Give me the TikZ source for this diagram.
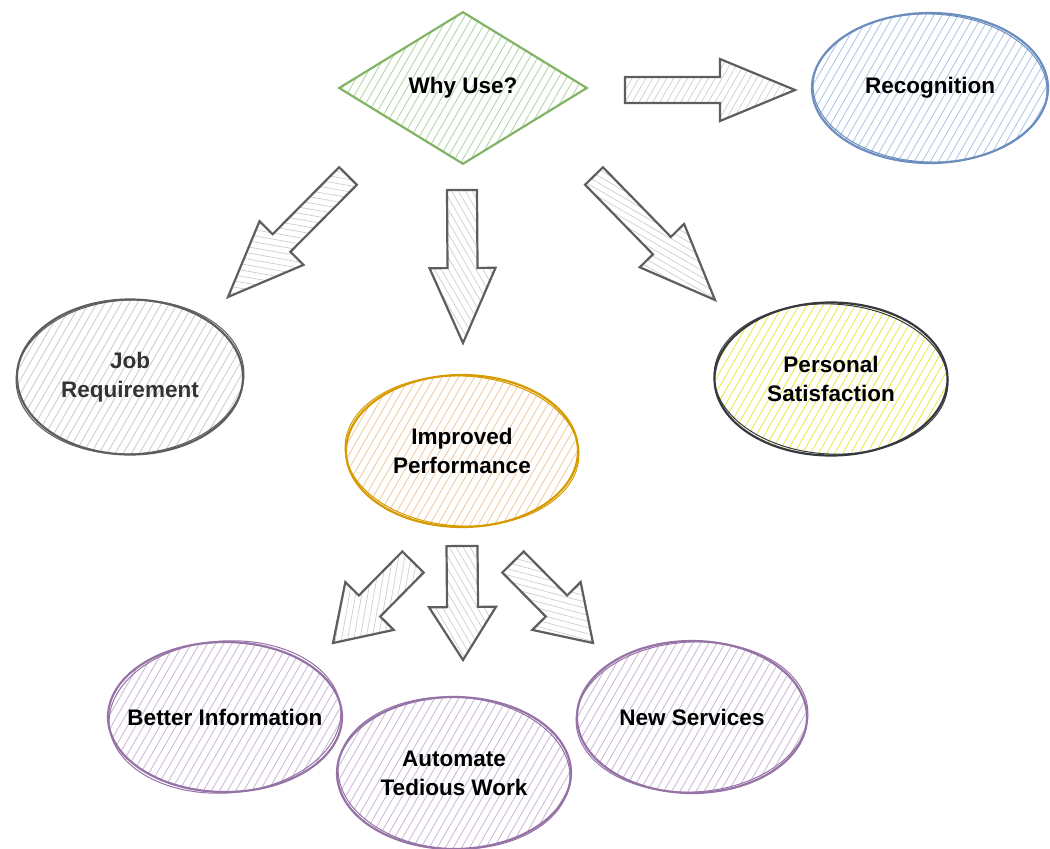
\documentclass[tikz,border=0pt]{standalone}
\usepackage{fontspec}
\setmainfont{Liberation Sans}
\usetikzlibrary{shapes.geometric,patterns.meta,calc}

\definecolor{sGreen}{HTML}{82B366}\definecolor{hGreen}{HTML}{B3D8A8}
\definecolor{sBlue}{HTML}{6C8EBF}\definecolor{hBlue}{HTML}{B0C8E8}
\definecolor{sGray}{HTML}{5E5E5E}\definecolor{hGray}{HTML}{CDCDCD}
\definecolor{sDark}{HTML}{36393D}\definecolor{hYellow}{HTML}{E8E850}
\definecolor{sOrange}{HTML}{D79B00}\definecolor{hOrange}{HTML}{F0CCA6}
\definecolor{sPurple}{HTML}{9673A6}\definecolor{hPurple}{HTML}{CDBBD8}
\definecolor{tGray}{HTML}{333333}

% block arrow: tail, tip, half shaft, half head, head length, hatch angle
\newcommand{\bkarrow}[6]{%
  \coordinate (bkbase) at ($(#2)!#5!(#1)$);
  \draw[blockarr, pattern={Lines[angle=#6,distance=6pt,line width=0.7pt]}, pattern color=hGray]
    ($(#1)!#3!90:(#2)$) -- ($(bkbase)!#3!90:(#2)$) -- ($(bkbase)!#4!90:(#2)$) -- (#2)
    -- ($(bkbase)!#4!-90:(#2)$) -- ($(bkbase)!#3!-90:(#2)$) -- ($(#1)!#3!-90:(#2)$) -- cycle;
}

\begin{document}
\begin{tikzpicture}[x=1pt,y=-1pt,
  bub/.style={ellipse, line width=2.2pt, inner sep=0pt, outer sep=0pt},
  hatch/.style={pattern={Lines[angle=#1,distance=7pt,line width=0.9pt]}},
  txt/.style={font=\fontsize{22.5}{29}\selectfont\bfseries, align=center, inner sep=0pt},
  blockarr/.style={draw=sGray, line width=2.2pt, line join=miter},
  ring/.style={line width=1pt}
]
\useasboundingbox (0,0) rectangle (1050,849);

% decision
\node[diamond, draw=sGreen, line width=2.2pt, inner sep=0pt, hatch=60, pattern color=hGreen,
      minimum width=248pt, minimum height=152pt,
      label={[txt]center:Why Use?}] (why) at (463,88) {};

% ellipses
\node[bub, draw=sBlue, hatch=60, pattern color=hBlue, minimum width=236pt, minimum height=150pt,
      label={[txt]center:Recognition}] (rec) at (930,88) {};
\draw[sBlue, ring, rotate around={-2:(rec.center)}] (rec.center) ellipse [x radius=117pt, y radius=74pt];

\node[bub, draw=sGray, hatch=60, pattern color=hGray, minimum width=226pt, minimum height=155pt,
      label={[txt,text=tGray]center:Job\\Requirement}] (job) at (130,377) {};
\draw[sGray, ring, rotate around={3:(job.center)}] (job.center) ellipse [x radius=114pt, y radius=77pt];

\node[bub, draw=sDark, hatch=60, pattern color=hYellow, minimum width=233pt, minimum height=153pt,
      label={[txt]center:Personal\\Satisfaction}] (pers) at (831,379) {};
\draw[sDark, ring, rotate around={-3:(pers.center)}] (pers.center) ellipse [x radius=117pt, y radius=75pt];

\node[bub, draw=sOrange, hatch=60, pattern color=hOrange, minimum width=232pt, minimum height=152pt,
      label={[txt]center:Improved\\Performance}] (imp) at (462,451) {};
\draw[sOrange, ring, rotate around={-3:(imp.center)}] (imp.center) ellipse [x radius=117pt, y radius=75pt];

\node[bub, draw=sPurple, hatch=60, pattern color=hPurple, minimum width=234pt, minimum height=150pt,
      label={[txt]center:Better Information}] (better) at (225,717) {};
\draw[sPurple, ring, rotate around={4:(better.center)}] (better.center) ellipse [x radius=116pt, y radius=76pt];

\node[bub, draw=sPurple, hatch=60, pattern color=hPurple, minimum width=234pt, minimum height=152pt,
      label={[txt]center:Automate\\Tedious Work}] (auto) at (454,773) {};
\draw[sPurple, ring, rotate around={-3:(auto.center)}] (auto.center) ellipse [x radius=116pt, y radius=76pt];

\node[bub, draw=sPurple, hatch=60, pattern color=hPurple, minimum width=230pt, minimum height=152pt,
      label={[txt]center:New Services}] (news) at (692,717) {};
\draw[sPurple, ring, rotate around={3:(news.center)}] (news.center) ellipse [x radius=116pt, y radius=75pt];

% arrow end points
\coordinate (a1t) at (625,90);  \coordinate (a1h) at (795,90);
\coordinate (a2t) at (348,176); \coordinate (a2h) at (228,297);
\coordinate (a3t) at (462,190); \coordinate (a3h) at (463,343);
\coordinate (a4t) at (594,176); \coordinate (a4h) at (715,300);
\coordinate (b1t) at (413,562); \coordinate (b1h) at (333,643);
\coordinate (b2t) at (462,546); \coordinate (b2h) at (463,660);
\coordinate (b3t) at (513,562); \coordinate (b3h) at (593,643);

\bkarrow{a1t}{a1h}{13pt}{31pt}{75pt}{60}
\bkarrow{a2t}{a2h}{12.5pt}{31pt}{76pt}{170}
\bkarrow{a3t}{a3h}{15pt}{33pt}{75pt}{120}
\bkarrow{a4t}{a4h}{12.5pt}{31pt}{76pt}{150}
\bkarrow{b1t}{b1h}{15pt}{34pt}{52pt}{80}
\bkarrow{b2t}{b2h}{15.5pt}{33.5pt}{53pt}{120}
\bkarrow{b3t}{b3h}{15pt}{34pt}{52pt}{165}
\end{tikzpicture}
\end{document}
